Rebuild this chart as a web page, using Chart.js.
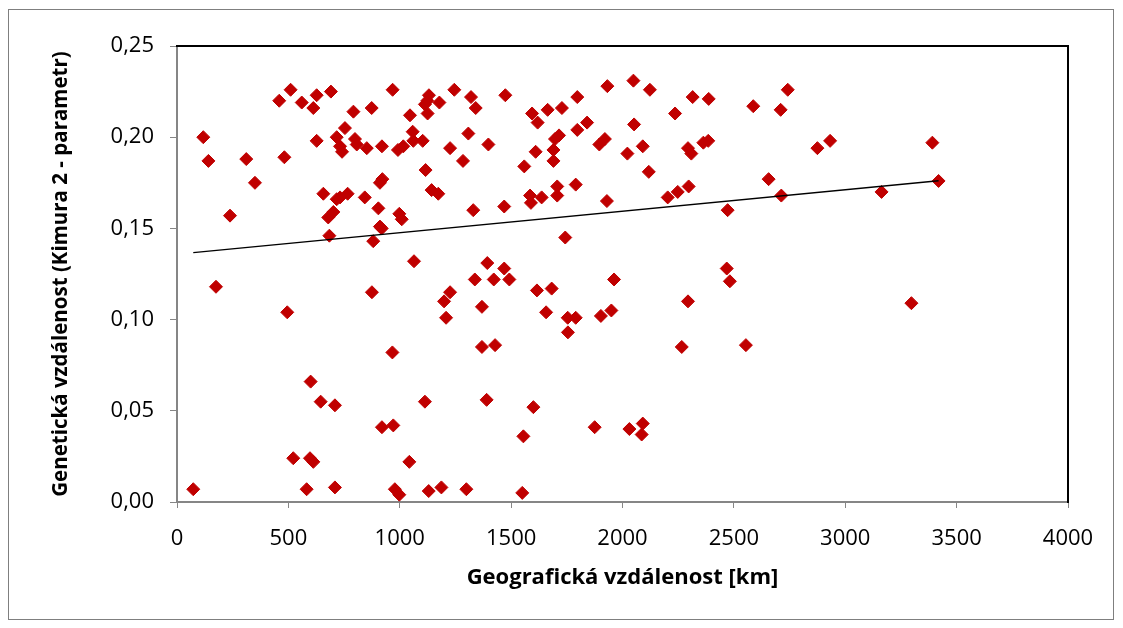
<!DOCTYPE html>
<html>
<head>
<meta charset="utf-8">
<script src="https://cdn.jsdelivr.net/npm/chart.js@4/dist/chart.umd.min.js"></script>
<style>
  html, body { margin: 0; padding: 0; background: #fff; }
  #wrap { position: relative; width: 1123px; height: 628px; }
  #frame { position: absolute; left: 8px; top: 9px; width: 1106px; height: 611px; border: 1px solid #7f7f7f; box-sizing: border-box; }
  canvas { position: absolute; left: 0; top: 0; }
</style>
</head>
<body>
<div id="wrap">
  <div id="frame"></div>
  <canvas id="scatterChart" width="1123" height="628"></canvas>
</div>
<script>
// geographic distance [km] and genetic distance (Kimura 2-parameter)
const distKm = [
  73, 118, 141, 175, 238, 311, 350, 459, 510, 482, 495, 560, 522, 597, 612, 582,
  600, 612, 627, 627, 645, 657, 691, 709, 709, 679, 702, 684, 717, 717, 732, 732,
  741, 754, 766, 792, 799, 807, 843, 852, 874, 875, 881, 904, 911, 919, 911, 922,
  920, 920, 967, 968, 971, 978, 998, 992, 998, 1009, 1016, 1043, 1046, 1058, 1061,
  1103, 1064, 1113, 1124, 1125, 1131, 1113, 1116, 1130, 1143, 1173, 1178, 1187,
  1199, 1208, 1226, 1226, 1245, 1284, 1299, 1308, 1320, 1330, 1337, 1341, 1369,
  1369, 1390, 1393, 1398, 1422, 1428, 1469, 1469, 1474, 1492, 1550, 1555, 1559,
  1585, 1589, 1594, 1600, 1610, 1616, 1619, 1637, 1657, 1664, 1682, 1690, 1690,
  1697, 1707, 1707, 1715, 1728, 1743, 1754, 1755, 1790, 1790, 1797, 1797, 1841,
  1875, 1896, 1903, 1921, 1930, 1932, 1950, 1962, 2022, 2031, 2049, 2052, 2086,
  2091, 2091, 2118, 2123, 2203, 2236, 2248, 2266, 2294, 2294, 2297, 2309, 2315,
  2363, 2385, 2387, 2468, 2472, 2482, 2554, 2587, 2656, 2710, 2713, 2742, 2875,
  2932, 3163, 3297, 3391, 3419
];
const geneticDist = [
  0.007, 0.200, 0.187, 0.118, 0.157, 0.188, 0.175, 0.220, 0.226, 0.189, 0.104, 0.219, 0.024, 0.024, 0.022, 0.007,
  0.066, 0.216, 0.223, 0.198, 0.055, 0.169, 0.225, 0.053, 0.008, 0.156, 0.159, 0.146, 0.200, 0.166, 0.167, 0.195,
  0.192, 0.205, 0.169, 0.214, 0.199, 0.196, 0.167, 0.194, 0.216, 0.115, 0.143, 0.161, 0.151, 0.150, 0.175, 0.177,
  0.195, 0.041, 0.082, 0.226, 0.042, 0.007, 0.004, 0.193, 0.158, 0.155, 0.195, 0.022, 0.212, 0.203, 0.198,
  0.198, 0.132, 0.218, 0.220, 0.213, 0.223, 0.055, 0.182, 0.006, 0.171, 0.169, 0.219, 0.008,
  0.110, 0.101, 0.115, 0.194, 0.226, 0.187, 0.007, 0.202, 0.222, 0.160, 0.122, 0.216, 0.107,
  0.085, 0.056, 0.131, 0.196, 0.122, 0.086, 0.162, 0.128, 0.223, 0.122, 0.005, 0.036, 0.184,
  0.168, 0.164, 0.213, 0.052, 0.192, 0.116, 0.208, 0.167, 0.104, 0.215, 0.117, 0.193, 0.187,
  0.199, 0.173, 0.168, 0.201, 0.216, 0.145, 0.101, 0.093, 0.101, 0.174, 0.222, 0.204, 0.208,
  0.041, 0.196, 0.102, 0.199, 0.165, 0.228, 0.105, 0.122, 0.191, 0.040, 0.231, 0.207, 0.037,
  0.043, 0.195, 0.181, 0.226, 0.167, 0.213, 0.170, 0.085, 0.110, 0.194, 0.173, 0.191, 0.222,
  0.197, 0.198, 0.221, 0.128, 0.160, 0.121, 0.086, 0.217, 0.177, 0.215, 0.168, 0.226, 0.194,
  0.198, 0.170, 0.109, 0.197, 0.176
];
const xTicks = [0, 500, 1000, 1500, 2000, 2500, 3000, 3500, 4000];
const yTicks = [0, 0.05, 0.10, 0.15, 0.20, 0.25];

const points = distKm.map((x, i) => ({ x: x, y: geneticDist[i] }));

// linear trend line (least squares) like the Excel trendline
const n = points.length;
const meanX = distKm.reduce((a, b) => a + b, 0) / n;
const meanY = geneticDist.reduce((a, b) => a + b, 0) / n;
let sxy = 0, sxx = 0;
points.forEach(p => { sxy += (p.x - meanX) * (p.y - meanY); sxx += (p.x - meanX) * (p.x - meanX); });
const slope = sxy / sxx;
const intercept = meanY - slope * meanX;
const minX = Math.min(...distKm);
const maxX = Math.max(...distKm);
const trend = [
  { x: minX, y: intercept + slope * minX },
  { x: maxX, y: intercept + slope * maxX }
];

const fontFamily = "'Open Sans', 'Liberation Sans', sans-serif";
const axisGrey = '#868686';

new Chart(document.getElementById('scatterChart').getContext('2d'), {
  type: 'scatter',
  data: {
    datasets: [{
      label: 'data',
      data: points,
      pointStyle: 'rectRot',
      pointRadius: 6.5,
      borderWidth: 1,
      backgroundColor: '#C00000',
      borderColor: '#C00000',
      order: 2
    }, {
      type: 'line',
      label: 'trend',
      data: trend,
      borderColor: '#000000',
      borderWidth: 1.5,
      pointRadius: 0,
      fill: false,
      order: 1
    }]
  },
  options: {
    responsive: false,
    animation: false,
    layout: { padding: { left: 49, top: 46, right: 55, bottom: 37 } },
    plugins: { legend: { display: false }, tooltip: { enabled: false } },
    scales: {
      x: {
        type: 'linear',
        position: 'bottom',
        min: 0, max: 4000,
        afterBuildTicks: s => { s.ticks = xTicks.map(v => ({ value: v })); },
        afterFit: s => { s.height = 89; s.paddingLeft = 0; s.paddingRight = 0; },
        ticks: {
          color: '#000',
          font: { family: fontFamily, size: 22 },
          padding: 18,
          maxRotation: 0,
          callback: v => String(v)
        },
        grid: { drawOnChartArea: false, drawTicks: true, tickLength: 6, color: axisGrey },
        border: { color: axisGrey, width: 2 },
        title: {
          display: true,
          text: 'Geografická vzdálenost [km]',
          color: '#000',
          font: { family: fontFamily, size: 22, weight: 'bold' },
          padding: 0
        }
      },
      y: {
        type: 'linear',
        position: 'left',
        min: 0, max: 0.25,
        afterBuildTicks: s => { s.ticks = yTicks.map(v => ({ value: v })); },
        afterFit: s => { s.width = 128; s.paddingTop = 0; s.paddingBottom = 0; },
        ticks: {
          color: '#000',
          font: { family: fontFamily, size: 22 },
          padding: 16,
          callback: v => v.toFixed(2).replace('.', ',')
        },
        grid: { drawOnChartArea: false, drawTicks: true, tickLength: 7, color: axisGrey },
        border: { color: axisGrey, width: 2 },
        title: {
          display: true,
          text: 'Genetická vzdálenost (Kimura 2 - parametr)',
          color: '#000',
          font: { family: fontFamily, size: 20.5, weight: 'bold' },
          padding: 0
        }
      },
      xTop: {
        type: 'linear',
        position: 'top',
        min: 0, max: 4000,
        afterFit: s => { s.height = 0; s.paddingLeft = 0; s.paddingRight = 0; },
        ticks: { display: false },
        grid: { drawOnChartArea: false, drawTicks: false },
        border: { color: '#000', width: 2 }
      },
      yRight: {
        type: 'linear',
        position: 'right',
        min: 0, max: 0.25,
        afterFit: s => { s.width = 0; s.paddingTop = 0; s.paddingBottom = 0; },
        ticks: { display: false },
        grid: { drawOnChartArea: false, drawTicks: false },
        border: { color: '#000', width: 2 }
      }
    }
  }
});
</script>
</body>
</html>
